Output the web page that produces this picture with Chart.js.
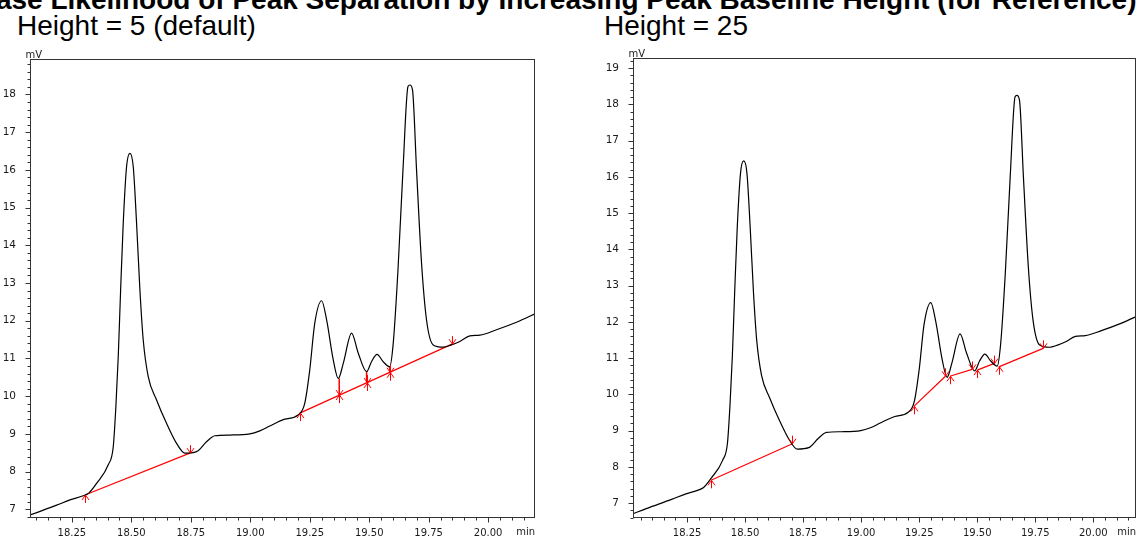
<!DOCTYPE html>
<html>
<head>
<meta charset="utf-8">
<script src="https://cdn.jsdelivr.net/npm/chart.js@4.4.1/dist/chart.umd.min.js"></script>
<style>
  body { margin: 0; width: 1137px; height: 536px; overflow: hidden; background: #fff; position: relative; font-family: "Liberation Sans", Arial, sans-serif; color: #000; }
  .title { position: absolute; left: -71px; top: -14px; font-size: 28px; font-weight: bold; line-height: 28px; white-space: nowrap; }
  .sub { position: absolute; top: 12px; font-size: 28px; line-height: 28px; white-space: nowrap; }
  .panel { position: absolute; top: 40px; height: 496px; }
</style>
</head>
<body>
<div class="title">Increase Likelihood of Peak Separation by Increasing Peak Baseline Height (for Reference)</div>
<div class="sub" style="left:17px">Height = 5 (default)</div>
<div class="sub" style="left:604px">Height = 25</div>
<div class="panel" style="left:0;width:545px"><canvas id="chartH5"></canvas></div>
<div class="panel" style="left:600px;width:537px"><canvas id="chartH25"></canvas></div>

<script>
// Chromatogram trace: retention time (min) / detector signal (mV)
const traceTime = [18.017, 18.074, 18.186, 18.242, 18.298, 18.321, 18.354, 18.403, 18.424, 18.435,
  18.445, 18.455, 18.466, 18.480, 18.494, 18.508, 18.522, 18.536, 18.550, 18.571,
  18.606, 18.648, 18.690, 18.725, 18.774, 18.816, 18.851, 18.914, 18.998, 19.040,
  19.082, 19.145, 19.201, 19.229, 19.250, 19.271, 19.300, 19.321, 19.349, 19.370,
  19.391, 19.426, 19.454, 19.489, 19.510, 19.533, 19.558, 19.586, 19.601, 19.621,
  19.642, 19.663, 19.671, 19.682, 19.699, 19.720, 19.741, 19.769, 19.811, 19.846,
  19.881, 19.923, 19.965, 20.035, 20.119, 20.203];
const traceMv = [6.71, 6.85, 7.11, 7.25, 7.36, 7.43, 7.69, 8.18, 8.66, 9.72,
  11.05, 12.82, 14.59, 16.09, 16.44, 16.09, 14.59, 12.82, 11.49, 10.52,
  9.90, 9.28, 8.75, 8.49, 8.53, 8.79, 8.95, 8.97, 9.00, 9.08,
  9.21, 9.39, 9.50, 9.81, 10.69, 11.93, 12.53, 12.02, 10.96, 10.47,
  10.87, 11.67, 11.14, 10.65, 10.92, 11.11, 10.92, 10.78, 11.40, 13.35,
  16.00, 18.21, 18.25, 18.12, 16.00, 13.53, 12.02, 11.36, 11.30, 11.36,
  11.45, 11.60, 11.62, 11.76, 11.96, 12.20];

// Height = 5: baselines as start/end pairs, plus perpendicular drops
const baseH5Time = [18.305, 18.746, 19.208, 19.848];
const baseH5Mv = [7.38, 8.49, 9.55, 11.38];
const dropH5Time = [19.374, 19.489, 19.586];
const dropH5Top = [10.47, 10.65, 10.78];
const dropH5Base = [10.03, 10.35, 10.62];

// Height = 25: every peak gets its own baseline
const baseH25Time = [18.353, 18.704, 19.227, 19.363, 19.382, 19.478, 19.500, 19.571, 19.593, 19.784];
const baseH25Mv = [7.63, 8.64, 9.67, 10.50, 10.50, 10.69, 10.67, 10.85, 10.76, 11.27];
const dropH25Time = [];
const dropH25Top = [];
const dropH25Base = [];

// axis ticks
const xMajorTicks = [18.25, 18.50, 18.75, 19.00, 19.25, 19.50, 19.75, 20.00];
const yMajorTicksH5 = [7, 8, 9, 10, 11, 12, 13, 14, 15, 16, 17, 18];
const yMajorTicksH25 = [7, 8, 9, 10, 11, 12, 13, 14, 15, 16, 17, 18, 19];

const xTickFont = { family: 'DejaVu Sans', size: 10 };
const yTickFont = { family: 'DejaVu Sans', size: 10.5 };
const ink = '#1a1a1a';
const red = '#ff0000';

function pairSegments(times, values) {
  const pts = [];
  for (let i = 0; i < times.length; i += 2) {
    pts.push({ x: times[i], y: values[i] }, { x: times[i + 1], y: values[i + 1] }, { x: times[i + 1], y: null });
  }
  return pts;
}

function dropSegments(times, tops, bases) {
  const pts = [];
  times.forEach((t, i) => {
    pts.push({ x: t, y: tops[i] }, { x: t, y: bases[i] }, { x: t, y: null });
  });
  return pts;
}

function onStep(v, step) {
  const r = v / step;
  return Math.abs(r - Math.round(r)) < 1e-6;
}

function makePanel(canvasId, cfg) {
  // arrow markers: up at peak start, down at peak end, both on a drop
  const markers = [];
  for (let i = 0; i < cfg.baseTime.length; i += 2) {
    markers.push({ t: cfg.baseTime[i], v: cfg.baseMv[i], up: true });
    markers.push({ t: cfg.baseTime[i + 1], v: cfg.baseMv[i + 1], down: true });
  }
  cfg.dropTime.forEach((t, i) => markers.push({ t: t, v: cfg.dropBase[i], up: true, down: true }));

  const chromPlugin = {
    id: 'chrom',
    afterDatasetsDraw(chart) {
      const { ctx, scales: { x, y } } = chart;
      ctx.save();
      ctx.strokeStyle = red;
      ctx.lineWidth = 1;
      markers.forEach(m => {
        const px = Math.round(x.getPixelForValue(m.t)) + 0.5;
        const py = y.getPixelForValue(m.v);
        ctx.beginPath();
        if (m.up) {
          ctx.moveTo(px, py); ctx.lineTo(px, py + 8);
          ctx.moveTo(px - 3.5, py + 5); ctx.lineTo(px, py); ctx.lineTo(px + 3.5, py + 5);
        }
        if (m.down) {
          ctx.moveTo(px, py); ctx.lineTo(px, py - 8);
          ctx.moveTo(px - 3.5, py - 5); ctx.lineTo(px, py); ctx.lineTo(px + 3.5, py - 5);
        }
        ctx.stroke();
      });
      ctx.restore();
    },
    afterDraw(chart) {
      const { ctx, chartArea: a, scales: { x, y } } = chart;
      const L = Math.round(a.left) + 0.5, R = Math.round(a.right) - 0.5;
      const T = Math.round(a.top) + 0.5, B = Math.round(a.bottom) - 0.5;
      ctx.save();
      ctx.strokeStyle = '#333';
      ctx.lineWidth = 1;
      ctx.strokeRect(L, T, R - L, B - T);

      // x ticks every 0.05 min, long ones on the labelled values
      ctx.beginPath();
      for (let v = Math.ceil(x.min / 0.05) * 0.05; v <= x.max; v += 0.05) {
        const px = Math.round(x.getPixelForValue(v)) + 0.5;
        const len = onStep(v, 0.25) ? 5 : 3;
        ctx.moveTo(px, B); ctx.lineTo(px, B + len);
      }
      // y ticks every 0.2 mV, long ones on whole numbers
      for (let v = Math.ceil(y.min / 0.2) * 0.2; v <= y.max; v += 0.2) {
        const py = Math.round(y.getPixelForValue(v)) + 0.5;
        const len = onStep(v, 1) ? 5 : 3;
        ctx.moveTo(L, py); ctx.lineTo(L - len, py);
      }
      ctx.stroke();

      // units
      ctx.fillStyle = ink;
      ctx.font = '10px "DejaVu Sans"';
      ctx.textAlign = 'left';
      ctx.textBaseline = 'alphabetic';
      ctx.fillText('mV', L - 5, T - 2);
      ctx.textAlign = 'right';
      ctx.textBaseline = 'middle';
      ctx.fillText('min', R + 0.5, B + 14.5);
      ctx.restore();
    }
  };

  return new Chart(document.getElementById(canvasId), {
    type: 'line',
    data: {
      datasets: [
        {
          data: traceTime.map((t, i) => ({ x: t, y: traceMv[i] })),
          borderColor: '#000',
          borderWidth: 1.2,
          pointRadius: 0,
          cubicInterpolationMode: 'monotone'
        },
        {
          data: pairSegments(cfg.baseTime, cfg.baseMv),
          borderColor: red,
          borderWidth: 1.2,
          pointRadius: 0,
          spanGaps: false
        },
        {
          data: dropSegments(cfg.dropTime, cfg.dropTop, cfg.dropBase),
          borderColor: red,
          borderWidth: 1.5,
          pointRadius: 0,
          spanGaps: false
        }
      ]
    },
    options: {
      responsive: true,
      maintainAspectRatio: false,
      animation: false,
      events: [],
      layout: { padding: { top: cfg.padTop, right: cfg.padRight, left: 0, bottom: 0 } },
      plugins: { legend: { display: false }, tooltip: { enabled: false } },
      scales: {
        x: {
          type: 'linear',
          min: cfg.xMin,
          max: cfg.xMax,
          grid: { display: false },
          border: { display: false },
          afterBuildTicks: s => { s.ticks = xMajorTicks.map(v => ({ value: v })); },
          afterFit: s => { s.height = 18; },
          ticks: {
            font: xTickFont,
            color: ink,
            padding: 1,
            autoSkip: false,
            maxRotation: 0,
            callback: v => v.toFixed(2)
          }
        },
        y: {
          min: cfg.yMin,
          max: cfg.yMax,
          grid: { display: false },
          border: { display: false },
          afterBuildTicks: s => { s.ticks = cfg.yTicks.map(v => ({ value: v })); },
          afterFit: s => { s.width = cfg.yAxisWidth; },
          ticks: {
            font: yTickFont,
            color: ink,
            padding: 6,
            callback: v => String(v)
          }
        }
      }
    },
    plugins: [chromPlugin]
  });
}

makePanel('chartH5', {
  xMin: 18.074, xMax: 20.197, yMin: 6.77, yMax: 18.94,
  yTicks: yMajorTicksH5, yAxisWidth: 30, padTop: 19, padRight: 10,
  baseTime: baseH5Time, baseMv: baseH5Mv,
  dropTime: dropH5Time, dropTop: dropH5Top, dropBase: dropH5Base
});

makePanel('chartH25', {
  xMin: 18.017, xMax: 20.184, yMin: 6.59, yMax: 19.28,
  yTicks: yMajorTicksH25, yAxisWidth: 33, padTop: 18, padRight: 1,
  baseTime: baseH25Time, baseMv: baseH25Mv,
  dropTime: dropH25Time, dropTop: dropH25Top, dropBase: dropH25Base
});
</script>
</body>
</html>
